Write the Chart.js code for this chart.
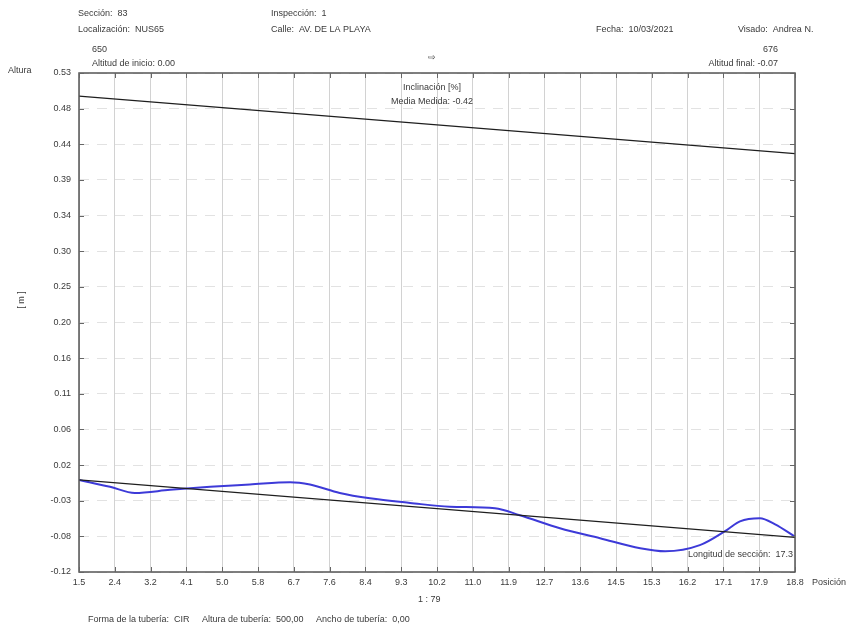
<!DOCTYPE html>
<html>
<head>
<meta charset="utf-8">
<script src="https://cdn.jsdelivr.net/npm/chart.js@4/dist/chart.umd.min.js"></script>
<style>
  html, body { margin: 0; padding: 0; background: #fff; }
  #wrap { width: 854px; height: 633px; position: relative; }
</style>
</head>
<body>
<div id="wrap"><canvas id="perfil" width="854" height="633"></canvas></div>
<script>
// Perfil longitudinal de la tubería (sección 83)
var X_MIN = 1.5, X_MAX = 18.8;
var Y_MIN = -0.12, Y_MAX = 0.53;

var xTickLabels = ['1.5','2.4','3.2','4.1','5.0','5.8','6.7','7.6','8.4','9.3','10.2',
                   '11.0','11.9','12.7','13.6','14.5','15.3','16.2','17.1','17.9','18.8'];
var yTickLabels = ['-0.12','-0.08','-0.03','0.02','0.06','0.11','0.16','0.20',
                   '0.25','0.30','0.34','0.39','0.44','0.48','0.53'];

// solera teórica y clave teórica (altura tubería 0.50)
var rasanteX = [1.5, 18.8];
var soleraY = [0.00, -0.075];
var claveY = [0.50, 0.425];

// perfil medido
var medidoX = [1.5, 2.25, 2.85, 3.7, 4.67, 5.63, 6.6, 7.08, 7.8, 8.53, 9.5, 10.46,
               11.55, 12.15, 13.12, 14.09, 15.06, 15.66, 16.5, 17.16, 17.47, 17.95, 18.32, 18.8];
var medidoY = [0.000, -0.009, -0.017, -0.013, -0.009, -0.006, -0.003, -0.006, -0.017, -0.024, -0.030, -0.035,
               -0.037, -0.046, -0.063, -0.076, -0.089, -0.093, -0.085, -0.065, -0.054, -0.050, -0.058, -0.074];

function pts(xs, ys) { return xs.map(function (x, i) { return { x: x, y: ys[i] }; }); }

var FONT = '9px "Liberation Sans", Arial, sans-serif';
var TXT = '#3a3a3a';

var textos = {
  id: 'textos',
  afterDraw: function (chart) {
    var ctx = chart.ctx, a = chart.chartArea;
    var xs = chart.scales.x, ys = chart.scales.y;
    ctx.save();
    // marco
    ctx.strokeStyle = '#555';
    ctx.lineWidth = 1.5;
    ctx.strokeRect(a.left, a.top, a.right - a.left, a.bottom - a.top);
    // marcas interiores
    ctx.lineWidth = 1;
    ctx.strokeStyle = '#666';
    xs.ticks.forEach(function (t) {
      var px = Math.round(xs.getPixelForValue(t.value)) + 0.5;
      ctx.beginPath();
      ctx.moveTo(px, a.top); ctx.lineTo(px, a.top + 5);
      ctx.moveTo(px, a.bottom); ctx.lineTo(px, a.bottom - 5);
      ctx.stroke();
    });
    ys.ticks.forEach(function (t) {
      var py = Math.round(ys.getPixelForValue(t.value)) + 0.5;
      ctx.beginPath();
      ctx.moveTo(a.left, py); ctx.lineTo(a.left + 5, py);
      ctx.moveTo(a.right, py); ctx.lineTo(a.right - 5, py);
      ctx.stroke();
    });

    ctx.fillStyle = TXT;
    ctx.font = FONT;
    ctx.textBaseline = 'middle';
    ctx.textAlign = 'left';
    ctx.fillText('Sección:  83', 78, 14);
    ctx.fillText('Localización:  NUS65', 78, 30);
    ctx.fillText('Inspección:  1', 271, 14);
    ctx.fillText('Calle:  AV. DE LA PLAYA', 271, 30);
    ctx.fillText('Fecha:  10/03/2021', 596, 30);
    ctx.fillText('Visado:  Andrea N.', 738, 30);
    ctx.fillText('650', 92, 50);
    ctx.fillText('Altitud de inicio: 0.00', 92, 64);
    ctx.fillText('Altura', 8, 71);
    ctx.fillText('Posición', 812, 583);
    ctx.fillText('1 : 79', 418, 600);
    ctx.fillText('Forma de la tubería:  CIR     Altura de tubería:  500,00     Ancho de tubería:  0,00', 88, 620);
    ctx.textAlign = 'right';
    ctx.fillText('676', 778, 50);
    ctx.fillText('Altitud final: -0.07', 778, 64);
    ctx.fillText('Longitud de sección:  17.3', 793, 555);
    ctx.textAlign = 'center';
    ctx.fillText('Inclinación [%]', 432, 88);
    ctx.fillText('Media Medida: -0.42', 432, 102);
    ctx.fillText('⇨', 432, 58);
    // etiqueta vertical
    ctx.translate(22, 300);
    ctx.rotate(-Math.PI / 2);
    ctx.fillText('[ m ]', 0, 0);
    ctx.restore();
  }
};

new Chart(document.getElementById('perfil'), {
  type: 'line',
  data: {
    datasets: [
      { label: 'Clave', data: pts(rasanteX, claveY), borderColor: '#1e1e1e', borderWidth: 1.2, pointRadius: 0, tension: 0 },
      { label: 'Solera', data: pts(rasanteX, soleraY), borderColor: '#1e1e1e', borderWidth: 1.2, pointRadius: 0, tension: 0 },
      { label: 'Medido', data: pts(medidoX, medidoY), borderColor: '#3d3ad8', borderWidth: 2, pointRadius: 0,
        cubicInterpolationMode: 'monotone' }
    ]
  },
  options: {
    responsive: false,
    animation: false,
    layout: { padding: { top: 73, right: 59, left: 0, bottom: 0 } },
    plugins: { legend: { display: false }, tooltip: { enabled: false } },
    scales: {
      x: {
        type: 'linear', min: X_MIN, max: X_MAX,
        afterBuildTicks: function (s) {
          s.ticks = xTickLabels.map(function (l, i) {
            return { value: X_MIN + i * (X_MAX - X_MIN) / (xTickLabels.length - 1) };
          });
        },
        afterFit: function (s) { s.height = 61; },
        ticks: {
          autoSkip: false, maxRotation: 0, padding: 5, color: TXT,
          font: { family: '"Liberation Sans", Arial, sans-serif', size: 9 },
          callback: function (v, i) { return xTickLabels[i]; }
        },
        grid: { color: '#d2d2d2', lineWidth: 1, drawTicks: false },
        border: { display: false }
      },
      y: {
        type: 'linear', min: Y_MIN, max: Y_MAX,
        afterBuildTicks: function (s) {
          s.ticks = yTickLabels.map(function (l, i) {
            return { value: Y_MIN + i * (Y_MAX - Y_MIN) / (yTickLabels.length - 1) };
          });
        },
        afterFit: function (s) { s.width = 79; },
        ticks: {
          autoSkip: false, padding: 8, color: TXT,
          font: { family: '"Liberation Sans", Arial, sans-serif', size: 9 },
          callback: function (v, i) { return yTickLabels[i]; }
        },
        grid: { color: '#e2e2e2', lineWidth: 1, drawTicks: false, tickBorderDash: [10, 8] },
        border: { display: false, dash: [10, 8] }
      }
    }
  },
  plugins: [textos]
});
</script>
</body>
</html>
